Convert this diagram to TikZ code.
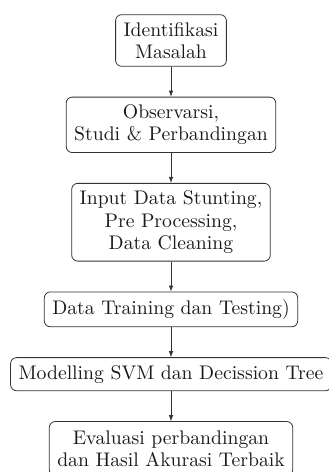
\documentclass[tikz,border=0pt]{standalone}
\usepackage{fontspec}
\setmainfont{lmroman10-regular.otf}
\usetikzlibrary{arrows.meta,positioning}
\definecolor{boxStroke}{HTML}{333333}
\definecolor{textMain}{HTML}{1A1A1A}

\begin{document}
\begin{tikzpicture}[
    node distance=30pt,
    font=\fontsize{19.7}{22.3}\selectfont,
    procNode/.style={
        rectangle, rounded corners=6pt,
        draw=boxStroke, line width=0.8pt,
        text=textMain,
        inner xsep=8pt, inner ysep=7.6pt,
        align=center
    },
    flow/.style={-{Latex[length=6pt,width=4.5pt]}, line width=0.7pt, draw=boxStroke}
]

% picture is cut at the bottom and right edge, as in the source
\useasboundingbox (0,0) rectangle (329pt,-472pt);

\node[procNode] (Identifikasi) at (171pt,-40.5pt) {Identifikasi\\Masalah};
\node[procNode, below=of Identifikasi] (Observasi) {Observarsi,\\Studi \& Perbandingan};
\node[procNode, below=of Observasi] (Input)
  {Input Data Stunting,\\Pre Processing,\\Data Cleaning};
\node[procNode, below=of Input] (Training) {Data Training dan Testing)};
\node[procNode, below=of Training] (Modelling) {Modelling SVM dan Decission Tree};
\node[procNode, below=of Modelling, inner ysep=9pt] (Evaluasi)
  {Evaluasi perbandingan\\dan Hasil Akurasi Terbaik};

\draw[flow] (Identifikasi) -- (Observasi);
\draw[flow] (Observasi) -- (Input);
\draw[flow] (Input) -- (Training);
\draw[flow] (Training) -- (Modelling);
\draw[flow] (Modelling) -- (Evaluasi);

\end{tikzpicture}
\end{document}
